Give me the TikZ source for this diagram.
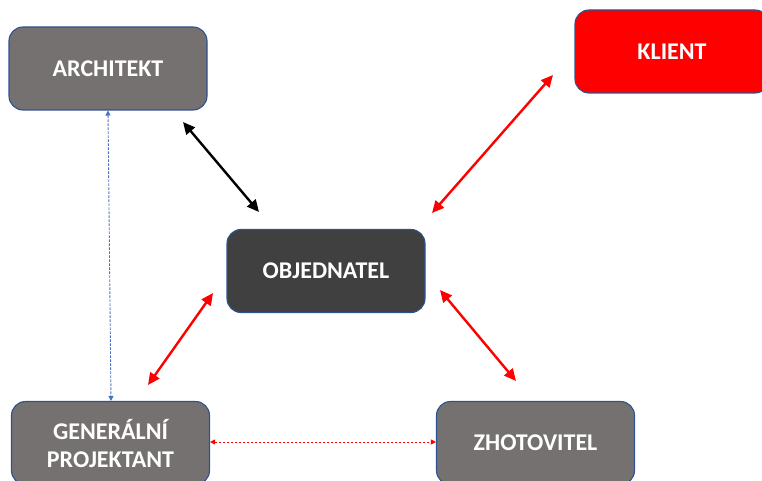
\documentclass[tikz,border=0pt]{standalone}
\usepackage{fontspec}
\setmainfont{Carlito}
\usetikzlibrary{arrows.meta}
\definecolor{boxgray}{RGB}{118,113,113}
\definecolor{boxdark}{RGB}{64,64,64}
\definecolor{boxedge}{RGB}{47,82,143}
\definecolor{linkblue}{RGB}{68,114,196}
\begin{document}
\begin{tikzpicture}[x=1pt,y=1pt,
  role/.style={rectangle, rounded corners=14pt, draw=boxedge, line width=1.1pt,
    minimum width=198pt, minimum height=83pt, text=white, align=center,
    font=\fontsize{24}{28}\selectfont\bfseries, inner sep=0pt},
  mainlink/.style={line width=2.4pt, {Triangle[length=12pt,width=11pt]}-{Triangle[length=12pt,width=11pt]}},
  sidelink/.style={line width=0.9pt, dash pattern=on 2.5pt off 1.5pt,
    {Triangle[length=5pt,width=5pt]}-{Triangle[length=5pt,width=5pt]}}]
\useasboundingbox (0,0) rectangle (762,480);

% parties
\node[role, fill=boxgray] (arch) at (108,411.5) {ARCHITEKT};
\node[role, fill=red, minimum width=194pt] (klient) at (672,428.5) {KLIENT};
\node[role, fill=boxdark] (obj) at (326,209) {OBJEDNATEL};
\node[role, fill=boxgray] (gp) at (110.5,37) {GENERÁLNÍ\\PROJEKTANT};
\node[role, fill=boxgray] (zhot) at (535.5,37) {ZHOTOVITEL};

% arrow end points between the boxes
\coordinate (a1) at (183,358);
\coordinate (a2) at (259,268);
\coordinate (k1) at (553,405);
\coordinate (k2) at (432,267);
\coordinate (g1) at (213,187);
\coordinate (g2) at (148,95);
\coordinate (z1) at (440,190);
\coordinate (z2) at (516,99);

% contractual links
\draw[mainlink, black] (a1) -- (a2);
\draw[mainlink, red] (k1) -- (k2);
\draw[mainlink, red] (g1) -- (g2);
\draw[mainlink, red] (z1) -- (z2);

% coordination links
\draw[sidelink, linkblue] (108,369.5) -- (111,79);
\draw[sidelink, red] (gp.east |- 0,38) -- (zhot.west |- 0,38);
\end{tikzpicture}
\end{document}
